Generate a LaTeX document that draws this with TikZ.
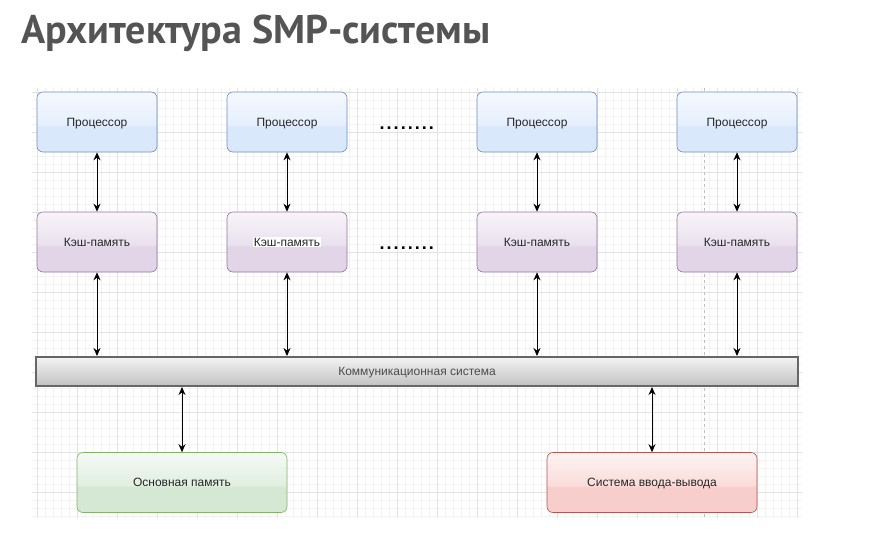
\documentclass[tikz,border=0pt]{standalone}
\usepackage{fontspec}
\setmainfont{Liberation Sans}
\newfontfamily\titlefont{PT Sans}
\usetikzlibrary{arrows.meta}
\definecolor{pblue}{HTML}{DAE8FC}
\definecolor{pblueln}{HTML}{6C8EBF}
\definecolor{ppurp}{HTML}{E1D5E7}
\definecolor{ppurpln}{HTML}{9673A6}
\definecolor{pgreen}{HTML}{D5E8D4}
\definecolor{pgreenln}{HTML}{82B366}
\definecolor{pred}{HTML}{F8CECC}
\definecolor{predln}{HTML}{B85450}
\definecolor{gridminor}{HTML}{F2F2F2}
\definecolor{gridmajor}{HTML}{E2E2E2}
\definecolor{titlegray}{HTML}{545454}
\definecolor{bustop}{HTML}{F3F3F3}
\definecolor{busbot}{HTML}{C2C2C2}
\definecolor{busln}{HTML}{666666}
\pgfdeclareverticalshading{glassblue}{100bp}{color(0bp)=(pblue); color(46bp)=(pblue); color(48bp)=(pblue!70!white); color(75bp)=(pblue!25!white); color(100bp)=(pblue!25!white)}
\pgfdeclareverticalshading{glasspurp}{100bp}{color(0bp)=(ppurp); color(46bp)=(ppurp); color(48bp)=(ppurp!70!white); color(75bp)=(ppurp!25!white); color(100bp)=(ppurp!25!white)}
\pgfdeclareverticalshading{glassgreen}{100bp}{color(0bp)=(pgreen); color(46bp)=(pgreen); color(48bp)=(pgreen!70!white); color(75bp)=(pgreen!25!white); color(100bp)=(pgreen!25!white)}
\pgfdeclareverticalshading{glassred}{100bp}{color(0bp)=(pred); color(46bp)=(pred); color(48bp)=(pred!70!white); color(75bp)=(pred!25!white); color(100bp)=(pred!25!white)}
\newcommand\dotrowtext{.\kern2.05pt.\kern2.05pt.\kern2.05pt.\kern2.05pt.\kern2.05pt.\kern2.05pt.\kern2.05pt.}
\begin{document}
\begin{tikzpicture}[x=1pt,y=-1pt,
  box/.style={rounded corners=6pt, line width=0.6pt, minimum width=120pt, minimum height=60pt,
    inner sep=0pt, text depth=0pt, font=\fontsize{12}{14}\selectfont, text=black!85},
  procbox/.style={box, draw=pblueln, shading=glassblue},
  cachebox/.style={box, draw=ppurpln, shading=glasspurp},
  membox/.style={box, draw=pgreenln, shading=glassgreen, minimum width=210pt},
  iobox/.style={box, draw=predln, shading=glassred, minimum width=210pt},
  busbox/.style={draw=busln, line width=2pt, top color=bustop, bottom color=busbot,
    minimum width=762pt, minimum height=29pt, inner sep=0pt, text depth=0pt,
    font=\fontsize{12}{14}\selectfont, text=black!70},
  arr/.style={line width=1pt, {Stealth[length=8pt,width=7pt]}-{Stealth[length=8pt,width=7pt]}},
  dotrow/.style={anchor=base west, inner sep=0pt, font=\fontsize{18}{20}\selectfont\bfseries},
  gridline/.style={line width=0.5pt}
]
\useasboundingbox (0,0) rectangle (880,546);
\fill[white] (0,0) rectangle (880,546);
% grid
\begin{scope}
  \clip (32,88) rectangle (802,518);
  \foreach \i in {0,...,100} {
    \draw[gridline, gridminor] ({29.3+8*\i},88) -- ({29.3+8*\i},518);
  }
  \foreach \j in {0,...,56} {
    \draw[gridline, gridminor] (32,{84.3+8*\j}) -- (802,{84.3+8*\j});
  }
  \foreach \i in {0,...,20} {
    \draw[gridline, gridmajor] ({37.3+40*\i},88) -- ({37.3+40*\i},518);
  }
  \foreach \j in {0,...,11} {
    \draw[gridline, gridmajor] (32,{92.3+40*\j}) -- (802,{92.3+40*\j});
  }
\end{scope}
\coordinate (dashtop) at (704.5,88);
\coordinate (dashbot) at (704.5,518);
\draw[black!25, line width=0.6pt, dash pattern=on 3pt off 3pt] (dashtop) -- (dashbot);

% title
\node[anchor=base west, inner sep=0pt, text=titlegray, font=\titlefont\bfseries\fontsize{40}{44}\selectfont] (title) at (21,43) {Архитектура SMP-системы};

% processors
\node[procbox] (p1) at (97,122) {Процессор};
\node[procbox] (p2) at (287,122) {Процессор};
\node[procbox] (p3) at (537,122) {Процессор};
\node[procbox] (p4) at (737,122) {Процессор};
% caches
\node[cachebox] (c1) at (97,242) {Кэш-память};
\node[cachebox] (c2) at (287,242) {};
\node[fill=white, inner sep=1pt, text depth=0pt, font=\fontsize{12}{14}\selectfont, text=black!85] (c2t) at (c2.center) {Кэш-память};
\node[cachebox] (c3) at (537,242) {Кэш-память};
\node[cachebox] (c4) at (737,242) {Кэш-память};
% dots
\node[dotrow] (d1) at (379.4,129.6) {\dotrowtext};
\node[dotrow] (d2) at (379.4,249.6) {\dotrowtext};
% bus
\node[busbox] (bus) at (417,371.5) {Коммуникационная система};
% memory, io
\node[membox] (mem) at (182,482.5) {Основная память};
\node[iobox] (io) at (652,482.5) {Система ввода-вывода};

% arrows
\foreach \k in {1,2,3,4} {
  \draw[arr] (p\k.south) -- (c\k.north);
  \draw[arr] (c\k.south) -- (c\k.south |- bus.north);
}
\draw[arr] (mem.north) -- (mem.north |- bus.south);
\draw[arr] (io.north) -- (io.north |- bus.south);
\end{tikzpicture}
\end{document}
